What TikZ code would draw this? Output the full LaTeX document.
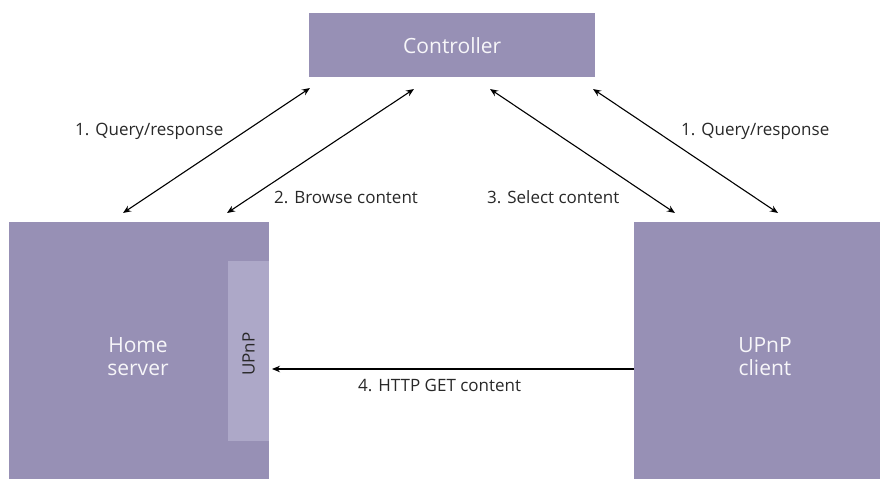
\documentclass[tikz,border=0pt]{standalone}
\usepackage{fontspec}
\setmainfont{Open Sans}
\usetikzlibrary{arrows.meta}
\definecolor{boxc}{RGB}{151,144,181}
\definecolor{stripc}{RGB}{173,168,200}
\definecolor{txtc}{RGB}{40,40,40}
\tikzset{
  box/.style={fill=boxc, draw=none, inner sep=0pt, anchor=north west},
  boxtext/.style={text=white!92!boxc, font=\fontsize{21}{23}\selectfont, align=center},
  lbl/.style={text=txtc, font=\fontsize{17}{20}\selectfont, inner sep=0pt},
  conn/.style={line width=1.1pt, {Stealth[length=8pt,width=6.5pt]}-{Stealth[length=8pt,width=6.5pt]}},
  conn1/.style={line width=1.1pt, -{Stealth[length=8pt,width=6.5pt]}}
}
\begin{document}
\begin{tikzpicture}[x=1pt,y=-1pt]
\useasboundingbox (0,0) rectangle (888,479);
\node[box, minimum width=286pt, minimum height=64pt] (ctrl) at (309,13) {};
\node[boxtext] at (ctrl.center) {Controller};
\node[box, minimum width=260pt, minimum height=257pt] (home) at (9,222) {};
\node[box, fill=stripc, minimum width=41pt, minimum height=180pt] (upnp) at (228,261) {};
\node[box, minimum width=246pt, minimum height=257pt] (client) at (634,222) {};
\node[boxtext] at (138,357) {Home\\server};
\node[boxtext] at (765,357) {UPnP\\client};
\node[text=txtc, font=\fontsize{17}{20}\selectfont, rotate=90] at ([yshift=-3pt]upnp.center) {UPnP};
\coordinate (a1s) at (123,213); \coordinate (a1e) at (310,88);
\coordinate (a2s) at (227,213); \coordinate (a2e) at (414,89);
\coordinate (a3s) at (490,89); \coordinate (a3e) at (675,213);
\coordinate (a4s) at (593,89); \coordinate (a4e) at (778,213);
\coordinate (a5e) at (272,369);
\draw[conn] (a1s) -- (a1e);
\draw[conn] (a2s) -- (a2e);
\draw[conn] (a3s) -- (a3e);
\draw[conn] (a4s) -- (a4e);
\draw[conn1] (client.west |- a5e) -- (a5e);
\node[lbl, anchor=west] at (75,131) {1. Query/response};
\node[lbl, anchor=west] at (274,197) {2. Browse content};
\node[lbl, anchor=west] at (487,197) {3. Select content};
\node[lbl, anchor=west] at (681,131) {1. Query/response};
\node[lbl, anchor=west] at (358,385) {4. HTTP GET content};
\end{tikzpicture}
\end{document}
